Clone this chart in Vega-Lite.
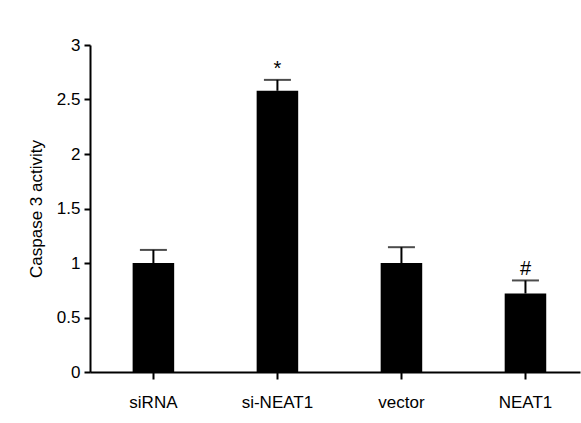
{
  "$schema": "https://vega.github.io/schema/vega-lite/v6.json",
  "width": 490,
  "height": 327,
  "autosize": {"type": "none"},
  "padding": {"left": 90, "top": 45, "right": 1, "bottom": 51},
  "background": "white",
  "config": {
    "view": {"stroke": null},
    "font": "Liberation Sans",
    "axis": {"grid": false, "domainColor": "black", "domainWidth": 2, "tickColor": "black", "tickWidth": 2, "labelColor": "black", "titleColor": "black", "labelFont": "Liberation Sans", "titleFont": "Liberation Sans"}
  },
  "data": {
    "values": [
      {"group": "siRNA", "value": 1.0, "err": 0.12, "sig": ""},
      {"group": "si-NEAT1", "value": 2.58, "err": 0.1, "sig": "*"},
      {"group": "vector", "value": 1.0, "err": 0.145, "sig": ""},
      {"group": "NEAT1", "value": 0.72, "err": 0.12, "sig": "#"}
    ]
  },
  "transform": [{"calculate": "datum.value + datum.err", "as": "top"}],
  "encoding": {
    "x": {
      "field": "group",
      "type": "nominal",
      "sort": null,
      "scale": {"paddingInner": 0.665, "paddingOuter": 0.308, "align": 0.558},
      "axis": {"title": null, "labelAngle": 0, "labelFontSize": 17, "tickSize": 7, "labelPadding": 15, "domainWidth": 2}
    }
  },
  "layer": [
    {
      "mark": {"type": "bar", "color": "black"},
      "encoding": {
        "y": {
          "field": "value",
          "type": "quantitative",
          "scale": {"domain": [0, 3], "nice": false},
          "axis": {"title": "Caspase 3 activity", "titleFontSize": 17, "titleFontWeight": "normal", "titlePadding": 11, "labelFontSize": 17, "tickSize": 6, "labelPadding": 4, "values": [0, 0.5, 1, 1.5, 2, 2.5, 3], "labelExpr": "datum.value"}
        }
      }
    },
    {
      "mark": {"type": "rule", "color": "black", "strokeWidth": 2},
      "encoding": {"y": {"field": "value", "type": "quantitative"}, "y2": {"field": "top"}}
    },
    {
      "mark": {"type": "tick", "color": "black", "thickness": 2, "size": 27},
      "encoding": {"y": {"field": "top", "type": "quantitative"}}
    },
    {
      "mark": {"type": "text", "fontSize": 20, "dy": -11, "baseline": "middle", "color": "black"},
      "encoding": {"y": {"field": "top", "type": "quantitative"}, "text": {"field": "sig"}}
    }
  ]
}
